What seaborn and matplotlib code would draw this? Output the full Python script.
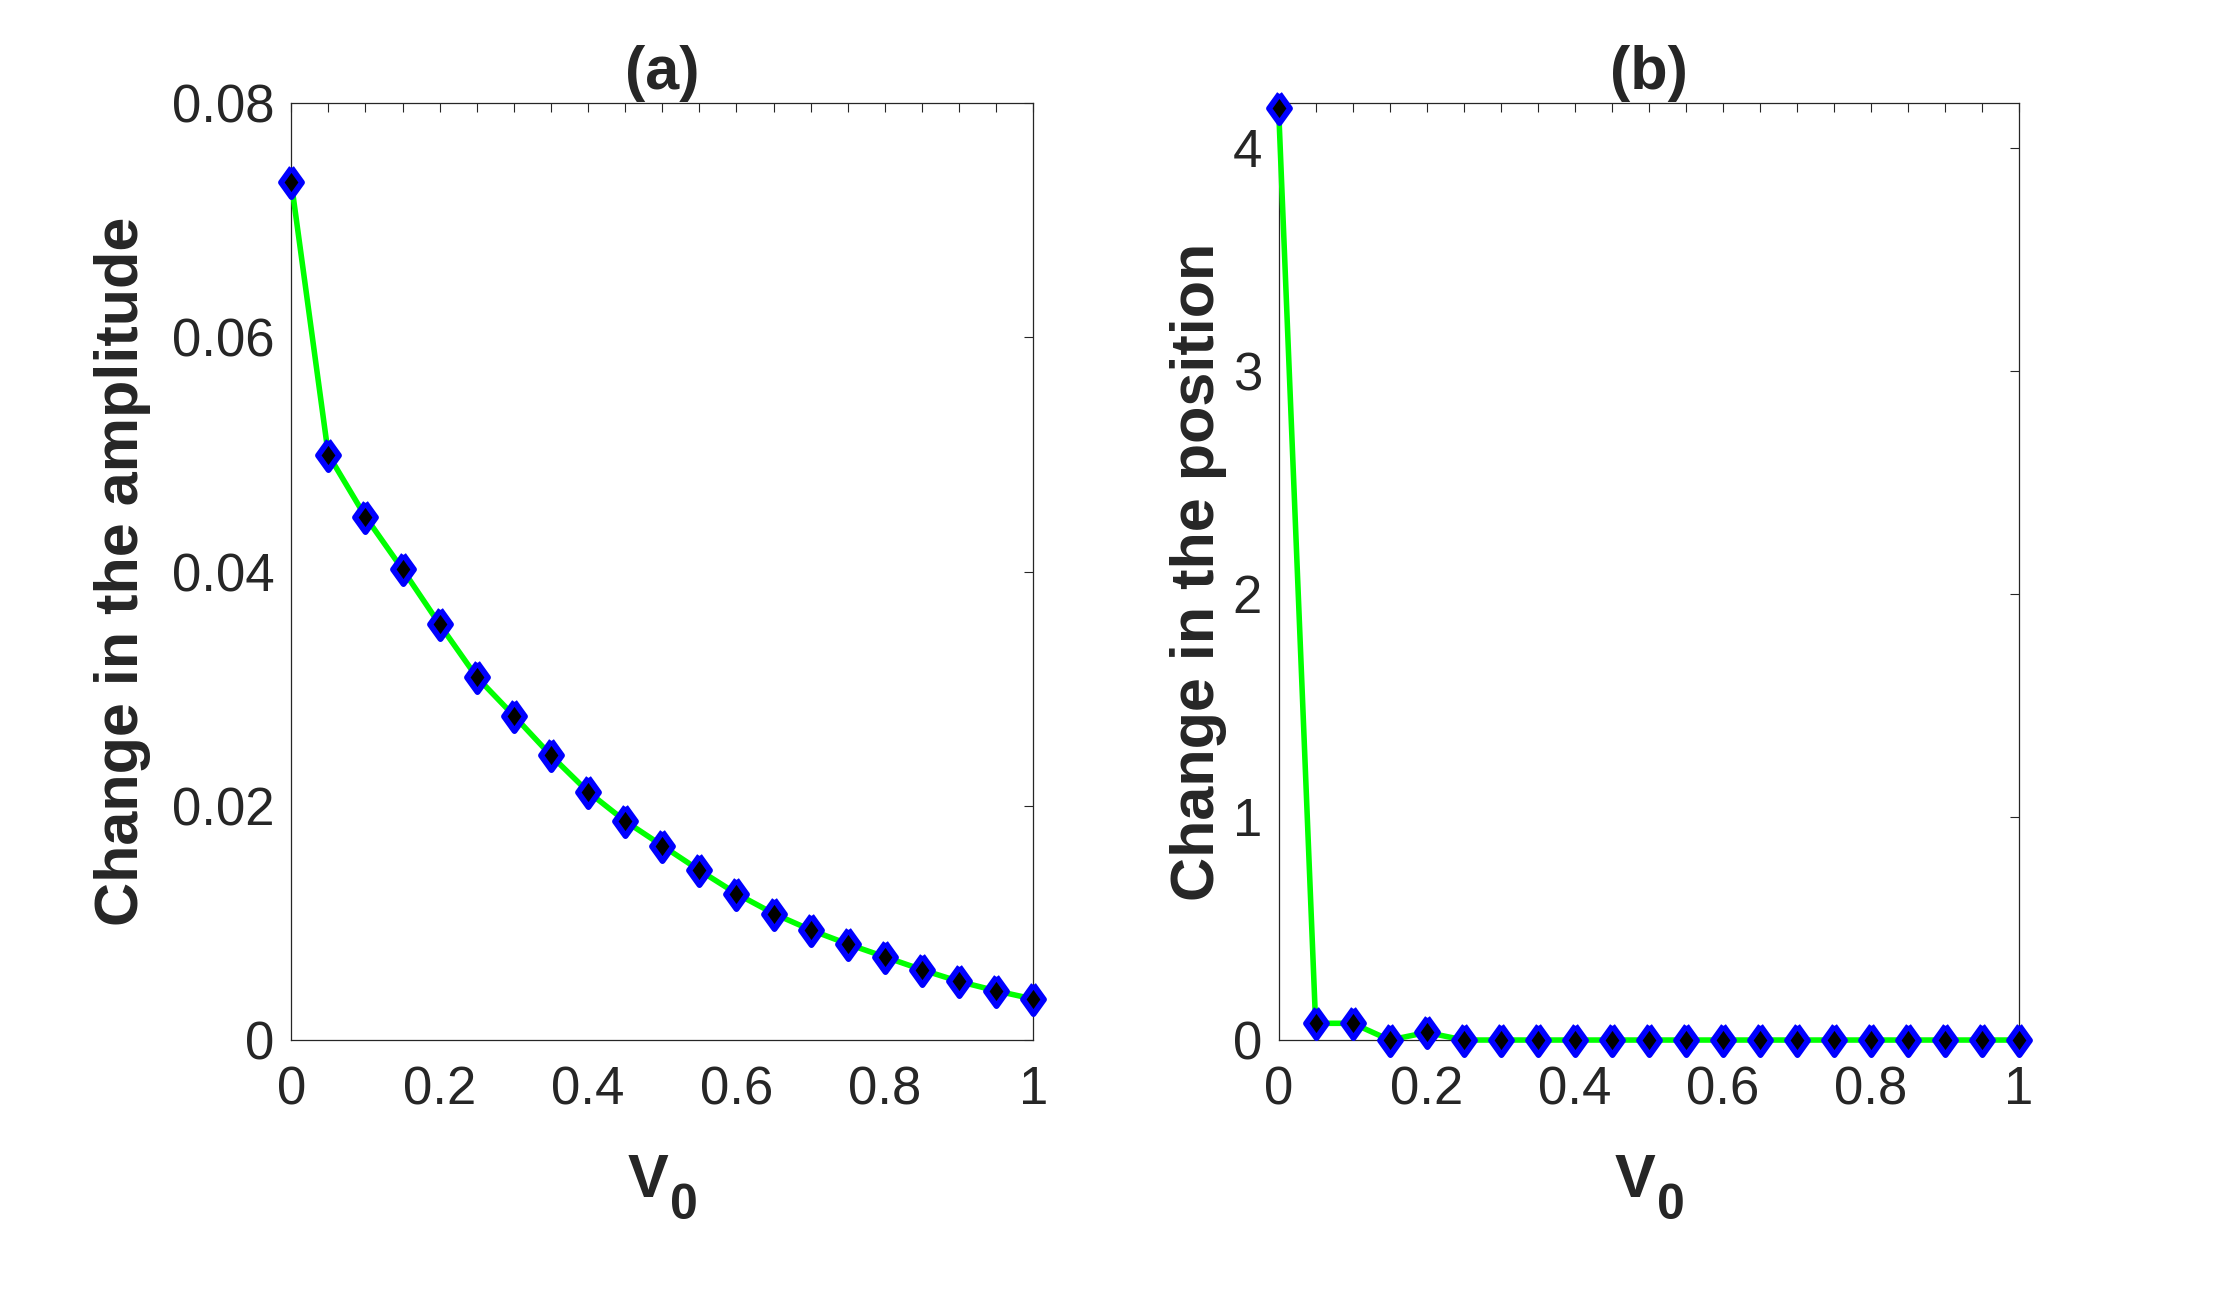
import matplotlib
matplotlib.use("Agg")
import matplotlib.pyplot as plt
from matplotlib.ticker import MultipleLocator
import seaborn as sns

# values
v0 = [0.0, 0.05, 0.10, 0.15, 0.20, 0.25, 0.30, 0.35, 0.40, 0.45, 0.50,
      0.55, 0.60, 0.65, 0.70, 0.75, 0.80, 0.85, 0.90, 0.95, 1.0]
amplitude_change = [0.0733, 0.0500, 0.0447, 0.0402, 0.0355, 0.0310, 0.0277,
                    0.0243, 0.0212, 0.0187, 0.0166, 0.0145, 0.0125, 0.0108,
                    0.0094, 0.0082, 0.0071, 0.0060, 0.0050, 0.0042, 0.0035]
position_change = [4.18, 0.075, 0.075, 0.0, 0.034, 0.0, 0.0, 0.0, 0.0, 0.0, 0.0,
                   0.0, 0.0, 0.0, 0.0, 0.0, 0.0, 0.0, 0.0, 0.0, 0.0]

x_ticks = [0, 0.2, 0.4, 0.6, 0.8, 1.0]
x_labels = ["0", "0.2", "0.4", "0.6", "0.8", "1"]
amp_ticks = [0, 0.02, 0.04, 0.06, 0.08]
amp_labels = ["0", "0.02", "0.04", "0.06", "0.08"]
pos_ticks = [0, 1, 2, 3, 4]
pos_labels = ["0", "1", "2", "3", "4"]

panels = [
    ("(a)", amplitude_change, "Change in the amplitude", amp_ticks, amp_labels, (0, 0.08), -0.189),
    ("(b)", position_change, "Change in the position", pos_ticks, pos_labels, (0, 4.2), -0.070),
]

# MATLAB style diamond (a bit wider than matplotlib's 'd')
diamante = [(0, 1), (0.72, 0), (0, -1), (-0.72, 0), (0, 1)]

sns.set_style("white")
plt.rcParams["font.family"] = ["Liberation Sans", "DejaVu Sans"]

fig = plt.figure(figsize=(22.4, 12.91), dpi=100)
axs = [fig.add_axes([0.130, 0.1944, 0.3313, 0.7256]),
       fig.add_axes([0.5708, 0.1944, 0.3306, 0.7256])]

for ax, (titulo, valores, rotulo, yt, yl, ylim, lab_x) in zip(axs, panels):
    sns.lineplot(x=v0, y=valores, ax=ax, color="#00ff00", linewidth=4,
                 marker=diamante, markersize=21, markerfacecolor="black",
                 markeredgecolor="blue", markeredgewidth=4.2, clip_on=False, zorder=3)
    ax.set_xlim(0, 1)
    ax.set_ylim(*ylim)
    ax.set_xticks(x_ticks, x_labels)
    ax.set_yticks(yt, yl)
    ax.xaxis.set_minor_locator(MultipleLocator(0.05))
    ax.tick_params(which="both", direction="in", top=True, right=True,
                   length=6.5, width=0.8, color="#262626")
    ax.tick_params(axis="x", which="major", labelsize=38, labelcolor="#262626", pad=18)
    ax.tick_params(axis="y", which="major", labelsize=38, labelcolor="#262626", pad=12)
    for sp in ax.spines.values():
        sp.set_visible(True)
        sp.set_color("#262626")
        sp.set_linewidth(0.9)
    ax.set_title(titulo, fontsize=44, fontweight="bold", pad=10)
    ax.set_ylabel(rotulo, fontsize=44, fontweight="bold")
    ax.yaxis.set_label_coords(lab_x, 0.5)
    # V with a large subscript 0, as in the MATLAB figure
    ax.set_xlabel("V", fontsize=44, fontweight="bold")
    ax.xaxis.set_label_coords(0.481, -0.121)
    ax.annotate("0", xy=(1.0, 0.0), xycoords=ax.xaxis.label, xytext=(1, 3),
                textcoords="offset points", ha="left", va="center",
                fontsize=36, fontweight="bold")

plt.savefig("out.png", dpi=100)
